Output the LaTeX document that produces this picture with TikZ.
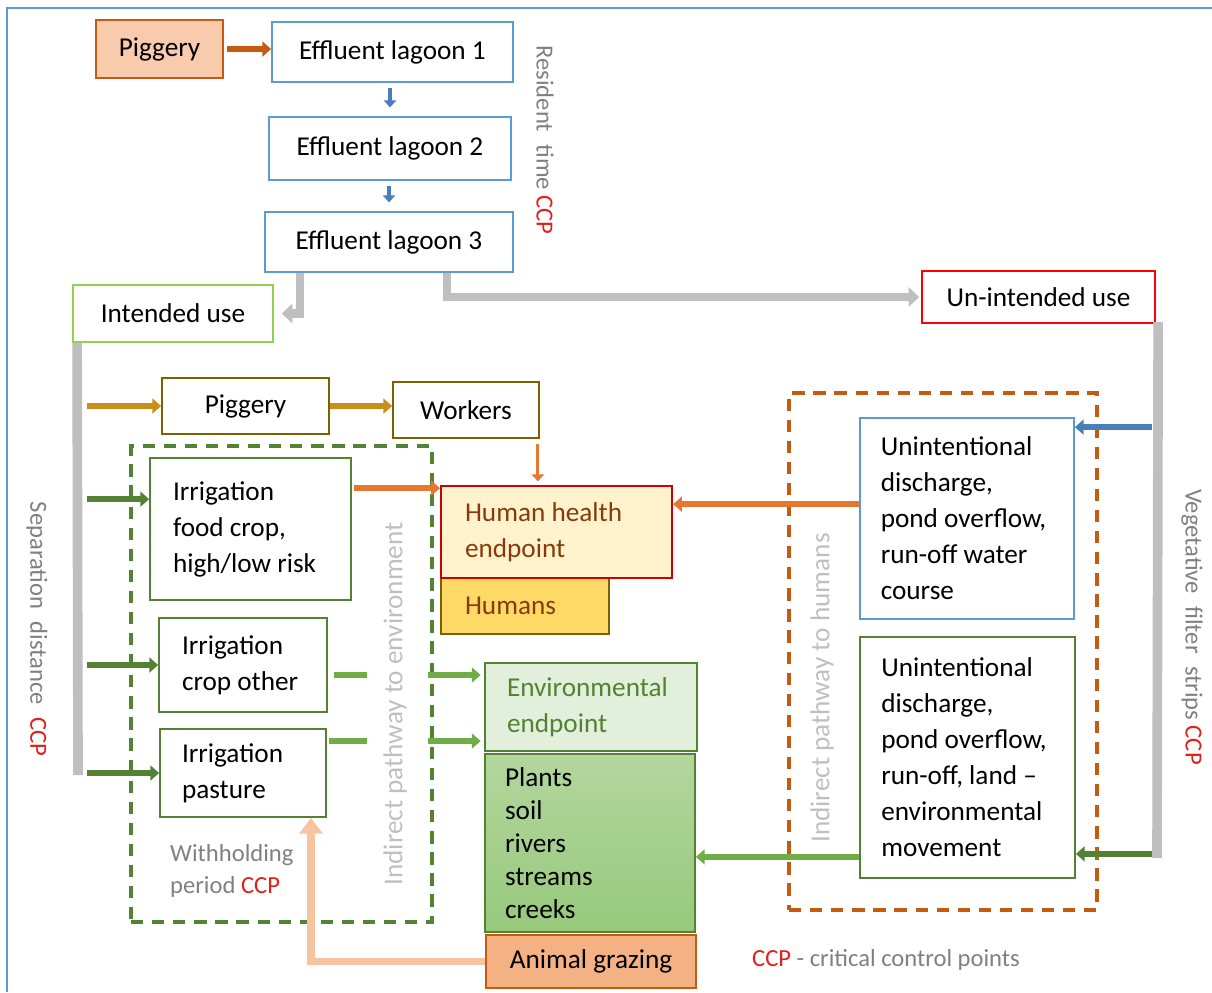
\documentclass[tikz,border=0pt]{standalone}
\usepackage{fontspec}
\setmainfont{Carlito}
\usetikzlibrary{arrows.meta,calc}
\definecolor{lagoonblue}{HTML}{5B9BD5}
\definecolor{rust}{HTML}{C55A11}
\definecolor{peach}{HTML}{F8CBAD}
\definecolor{peacharrow}{HTML}{F7C4A0}
\definecolor{pipegray}{HTML}{BFBFBF}
\definecolor{labelgray}{HTML}{808080}
\definecolor{leaf}{HTML}{548235}
\definecolor{grass}{HTML}{70AD47}
\definecolor{lime}{HTML}{92D050}
\definecolor{olive}{HTML}{7F6000}
\definecolor{gold}{HTML}{C98F1A}
\definecolor{ccpred}{HTML}{E0201B}
\definecolor{brick}{HTML}{843C0C}
\definecolor{cream}{HTML}{FFF2CC}
\definecolor{butter}{HTML}{FFD966}
\definecolor{mint}{HTML}{E2EFDA}
\definecolor{sage}{HTML}{B3D69D}
\definecolor{moss}{HTML}{97C97C}
\definecolor{apricot}{HTML}{F4B183}
\definecolor{tangerine}{HTML}{E5772F}
\definecolor{steel}{HTML}{4A7EBB}
\definecolor{alarm}{HTML}{FF0000}
\definecolor{crimson}{HTML}{D00000}
\newcommand{\ccp}{\textcolor{ccpred}{CCP}}
\tikzset{
  area/.style args={#1/#2/#3/#4}{minimum width={(#3-#1)*0.02cm}, minimum height={(#4-#2)*0.02cm},
    at={({(#1+#3)/2},{(#2+#4)/2})}},
  box/.style={draw, line width=1pt, fill=white, inner sep=0pt},
  lbox/.style={box, align=flush left, text width=#1},
  group/.style={draw, line width=2pt, dash pattern=on 7pt off 5pt, inner sep=0pt},
  side/.style={text=labelgray, font=\fontsize{14}{18}\selectfont},
  pathway/.style={text=pipegray, font=\fontsize{15.5}{18}\selectfont},
  bar/.style={draw=pipegray, line width=5.5pt},
  pipe/.style={draw=pipegray, line width=5pt, -{Triangle[length=6pt,width=11pt]}},
  flow/.style={draw=#1, line width=3.8pt, -{Triangle[length=5pt,width=8.5pt]}},
  slim/.style={draw=#1, line width=2.8pt, -{Triangle[length=4pt,width=7pt]}},
}
\begin{document}
\begin{tikzpicture}[x=0.02cm,y=-0.02cm,font=\fontsize{15.5}{20.5}\selectfont]
  \useasboundingbox (0,0) rectangle (1212,992);
  \draw[lagoonblue, line width=1.2pt] (7,992) -- (7,8) -- (1212,8);

  \node[box, draw=rust, fill=peach, area=96/20/223/78] (pig) {Piggery};
  \node[box, draw=lagoonblue, area=272/22/513/82] (lag1) {Effluent lagoon 1};
  \node[box, draw=lagoonblue, area=269/117/511/180] (lag2) {Effluent lagoon 2};
  \node[box, draw=lagoonblue, area=265/212/513/272] (lag3) {Effluent lagoon 3};
  \node[box, draw=lime, area=73/285/273/342] (intended) {Intended use};
  \node[box, draw=alarm, line width=1.3pt, area=922/271/1155/323] (unintended) {Un-intended use};
  \node[side, rotate=-90] (resident) at (545,140) {Resident\hspace{0.5em}time \ccp};

  \node[group, draw=leaf, area=131/446/432/922] (envpath) {};
  \node[group, draw=rust, area=789/393/1097/910] (humpath) {};
  \node[pathway, rotate=90] (envlabel) at (395,704) {Indirect pathway to environment};
  \node[pathway, rotate=90] (humlabel) at (822,688) {Indirect pathway to humans};

  \node[box, draw=olive, area=162/378/329/434] (farm) {Piggery};
  \node[box, draw=olive, area=393/382/539/438] (workers) {Workers};
  \node[lbox=3.1cm, draw=leaf, area=150/458/351/600] (food) {Irrigation\\food crop,\\high/low risk};
  \node[lbox=2.44cm, draw=leaf, area=159/618/327/712] (other) {Irrigation\\crop other};
  \node[lbox=2.44cm, draw=leaf, area=160/729/326/817] (pasture) {Irrigation\\pasture};
  \node[lbox=2.4cm, draw=olive, fill=butter, text=brick, area=441/578/609/634] (humans) {Humans};
  \node[lbox=3.66cm, draw=crimson, fill=cream, text=brick, line width=1.3pt, area=441/486/672/578] (health) {Human health\\endpoint};
  \node[lbox=3.36cm, draw=leaf, fill=mint, text=leaf, area=485/663/697/751] (envend) {Environmental\\endpoint};
  \node[lbox=3.4cm, draw=leaf, top color=sage, bottom color=moss, area=485/754/695/932,
        font=\fontsize{15.5}{18.7}\selectfont] (plants) {Plants\\soil\\rivers\\streams\\creeks};
  \node[box, draw=rust, fill=apricot, area=486/935/696/988] (grazing) {Animal grazing};
  \node[lbox=3.45cm, draw=lagoonblue, area=860/418/1074/619] (runoff)
        {Unintentional\\discharge,\\\mbox{pond overflow,}\\run-off water\\course};
  \node[lbox=3.45cm, draw=leaf, area=860/637/1075/878] (landrun)
        {Unintentional\\discharge,\\\mbox{pond overflow,}\\\mbox{run-off, land \textendash}\\environmental\\movement};

  \node[side, rotate=-90] (separation) at (37,629) {Separation\hspace{0.5em}distance\hspace{0.5em}\ccp};
  \node[side, rotate=-90] (vegetative) at (1192,627) {Vegetative\hspace{0.5em}filter\hspace{0.5em}strips \ccp};
  \node[side, align=left, anchor=west] (withhold) at (164,871) {Withholding\\period \ccp};
  \node[side] (legend) at (886,960) {\ccp{} - critical control points};

  \draw[flow=rust, shorten <=2pt] (pig.east) -- (pig.east -| lag1.west);
  \draw[slim=steel, shorten <=3pt, shorten >=5pt] (lag2.north |- lag1.south) -- (lag2.north);
  \draw[slim=steel, shorten <=3pt, shorten >=5pt] (lag3.north |- lag2.south) -- (lag3.north);

  \coordinate (leftdrop) at ($(lag3.south)+(-89,0)$);
  \coordinate (rightdrop) at ($(lag3.south)+(58,0)$);
  \draw[pipe, shorten >=4.5pt] (leftdrop) |- (intended.east);
  \draw[pipe, shorten >=1pt] (rightdrop) |- (unintended.west);

  \coordinate (septop) at ($(intended.south west)+(5,0)$);
  \coordinate (sepend) at (78,775);
  \coordinate (vegtop) at ($(unintended.south east)+(2,-2)$);
  \coordinate (vegend) at (1157,858);
  \draw[bar] (septop) -- (sepend);
  \draw[bar] (vegtop) -- (vegend);

  \coordinate (foodin) at ($(food.north west)+(0,42)$);
  \draw[flow=gold, shorten <=5pt] (sepend |- farm.west) -- (farm.west);
  \draw[flow=gold] (farm.east) -- (farm.east -| workers.west);
  \draw[flow=leaf, shorten <=5pt] (sepend |- foodin) -- (foodin);
  \draw[flow=leaf, shorten <=5pt] (sepend |- other.west) -- (other.west);
  \draw[flow=leaf, shorten <=5pt] (sepend |- pasture.west) -- (pasture.west);

  \coordinate (workout) at ($(workers.south east)+(-2,5)$);
  \coordinate (foodout) at ($(food.north east)+(2,31)$);
  \coordinate (runout) at ($(runoff.north west)+(0,87)$);
  \coordinate (runin) at ($(runoff.north east)+(0,10)$);
  \coordinate (landin) at ($(landrun.south east)+(0,-25)$);
  \coordinate (landout) at ($(landrun.south west)+(0,-22)$);
  \draw[slim=tangerine, line width=1.8pt, shorten >=2pt] (workout) -- (workout |- health.north);
  \draw[flow=tangerine] (foodout) -- (foodout -| health.west);
  \draw[flow=tangerine] (runout) -- (runout -| health.east);
  \draw[flow=steel, shorten <=3pt] (vegend |- runin) -- (runin);
  \draw[flow=leaf, shorten <=3pt] (vegend |- landin) -- (landin);
  \draw[flow=grass] (landout) -- (landout -| plants.east);

  \coordinate (otherout) at ($(other.east)+(6,10)$);
  \coordinate (pastureout) at ($(pasture.east)+(2,-32)$);
  \draw[flow=grass, dash pattern=on 18.7pt off 35pt on 80pt, shorten >=2pt] (otherout) -- (otherout -| envend.west);
  \draw[flow=grass, dash pattern=on 21.5pt off 35pt on 80pt, shorten >=2pt] (pastureout) -- (pastureout -| envend.west);

  \coordinate (grazein) at ($(pasture.south)+(68,0)$);
  \draw[draw=peacharrow, line width=4.5pt, -{Triangle[length=9pt,width=13pt]}] (grazing.west) -| (grazein);
\end{tikzpicture}
\end{document}
